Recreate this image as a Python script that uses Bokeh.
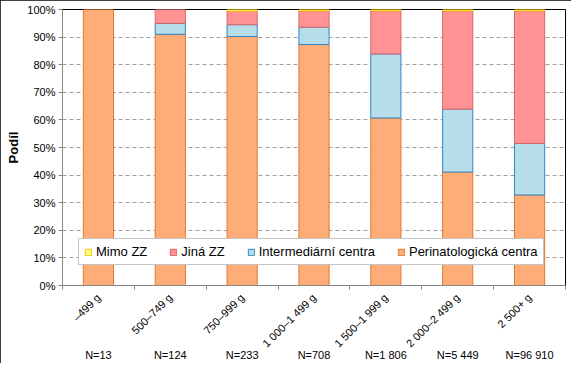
import math
from bokeh.plotting import figure
from bokeh.models import (FixedTicker, NumeralTickFormatter, LinearAxis, Legend,
                          LegendItem, Range1d)
from bokeh.embed import file_html
from bokeh.resources import INLINE

# ---- data ----
categories = ["–499 g", "500–749 g", "750–999 g", "1 000–1 499 g",
              "1 500–1 999 g", "2 000–2 499 g", "2 500+ g"]
n_labels = ["N=13", "N=124", "N=233", "N=708", "N=1 806", "N=5 449", "N=96 910"]
perinatologicka = [1.000, 0.910, 0.902, 0.873, 0.607, 0.411, 0.328]
intermediarni = [0.000, 0.040, 0.043, 0.063, 0.232, 0.228, 0.187]
jina_zz = [0.000, 0.050, 0.049, 0.059, 0.156, 0.356, 0.480]
mimo_zz = [0.000, 0.000, 0.006, 0.005, 0.005, 0.005, 0.005]
y_ticks = [0.0, 0.1, 0.2, 0.3, 0.4, 0.5, 0.6, 0.7, 0.8, 0.9, 1.0]

series = ["peri", "inter", "jina", "mimo"]
series_names = ["Perinatologická centra", "Intermediární centra", "Jiná ZZ", "Mimo ZZ"]
fills = ["#FFAD78", "#B6DDE8", "#FF9393", "#FFFF80"]
edges = ["#E0782E", "#2E86C8", "#D9646A", "#F5C000"]


def nz(vals):
    # empty segments are not drawn (no outline on zero-height bars)
    return [v if v > 0 else float("nan") for v in vals]


xs = list(range(len(categories)))
source = dict(x=xs, peri=nz(perinatologicka), inter=nz(intermediarni),
              jina=nz(jina_zz), mimo=nz(mimo_zz))

FONT = "Liberation Sans"

p = figure(width=571, height=363, output_backend="svg", toolbar_location=None,
           x_range=Range1d(-0.5, len(categories) - 0.5), y_range=Range1d(0, 1),
           min_border_left=62, min_border_right=6, min_border_top=9, min_border_bottom=0,
           background_fill_color="white", border_fill_color="white")
p.styles = {"outline": "1px solid black", "outline-offset": "-1px"}

renderers = p.vbar_stack(series, x="x", width=0.42, source=source,
                         fill_color=fills, line_color=edges, line_width=1)

p.outline_line_color = "black"
p.outline_line_width = 1

# y axis
p.yaxis.ticker = FixedTicker(ticks=y_ticks)
p.yaxis.formatter = NumeralTickFormatter(format="0%")
p.yaxis.axis_label = "Podíl"
p.yaxis.axis_label_text_font = FONT
p.yaxis.axis_label_text_font_size = "13px"
p.yaxis.axis_label_text_font_style = "bold"
p.yaxis.axis_label_text_color = "black"
p.yaxis.axis_label_standoff = 3
p.yaxis.major_label_text_font = FONT
p.yaxis.major_label_text_font_size = "11px"
p.yaxis.major_label_text_color = "black"
p.yaxis.major_label_standoff = 3
p.yaxis.axis_line_color = "#868686"
p.yaxis.major_tick_line_color = "#868686"
p.yaxis.major_tick_out = 4
p.yaxis.major_tick_in = 0
p.yaxis.minor_tick_line_color = None

# grid
p.xgrid.grid_line_color = None
p.ygrid.ticker = FixedTicker(ticks=y_ticks)
p.ygrid.grid_line_color = "#A0A0A0"
p.ygrid.grid_line_dash = "4 3"

# x axis (categories, rotated)
boundaries = [i - 0.5 for i in range(len(categories) + 1)]
xa = p.xaxis[0]
xa.ticker = FixedTicker(ticks=xs, minor_ticks=boundaries)
xa.major_label_overrides = {i: c for i, c in zip(xs, categories)}
xa.major_label_orientation = math.pi / 4
xa.major_label_text_font = FONT
xa.major_label_text_font_size = "11px"
xa.major_label_text_color = "black"
xa.major_label_standoff = 6
xa.major_tick_line_color = None
xa.major_tick_out = 0
xa.major_tick_in = 0
xa.minor_tick_line_color = "#868686"
xa.minor_tick_out = 4
xa.minor_tick_in = 0
xa.axis_line_color = "#868686"

# N labels axis
na = LinearAxis(ticker=FixedTicker(ticks=xs),
                major_label_overrides={i: n for i, n in zip(xs, n_labels)})
na.axis_line_color = None
na.major_tick_line_color = None
na.minor_tick_line_color = None
na.major_tick_out = 0
na.major_tick_in = 0
na.major_label_standoff = -8
na.major_label_text_font = FONT
na.major_label_text_font_size = "11px"
na.major_label_text_color = "black"
p.add_layout(na, "below")

# legend
order = [3, 2, 1, 0]
items = [LegendItem(label=series_names[i], renderers=[renderers[i]]) for i in order]
legend = Legend(items=items, orientation="horizontal", location=(16, 20),
                label_text_font=FONT, label_text_font_size="13px",
                label_text_color="black", label_height=13, label_standoff=4,
                glyph_width=8, glyph_height=8, spacing=22, padding=5,
                border_line_color="#8C8C8C", border_line_width=1,
                background_fill_color="white", background_fill_alpha=1.0)
p.add_layout(legend, "center")

open("out.html", "w").write(file_html(p, INLINE))
